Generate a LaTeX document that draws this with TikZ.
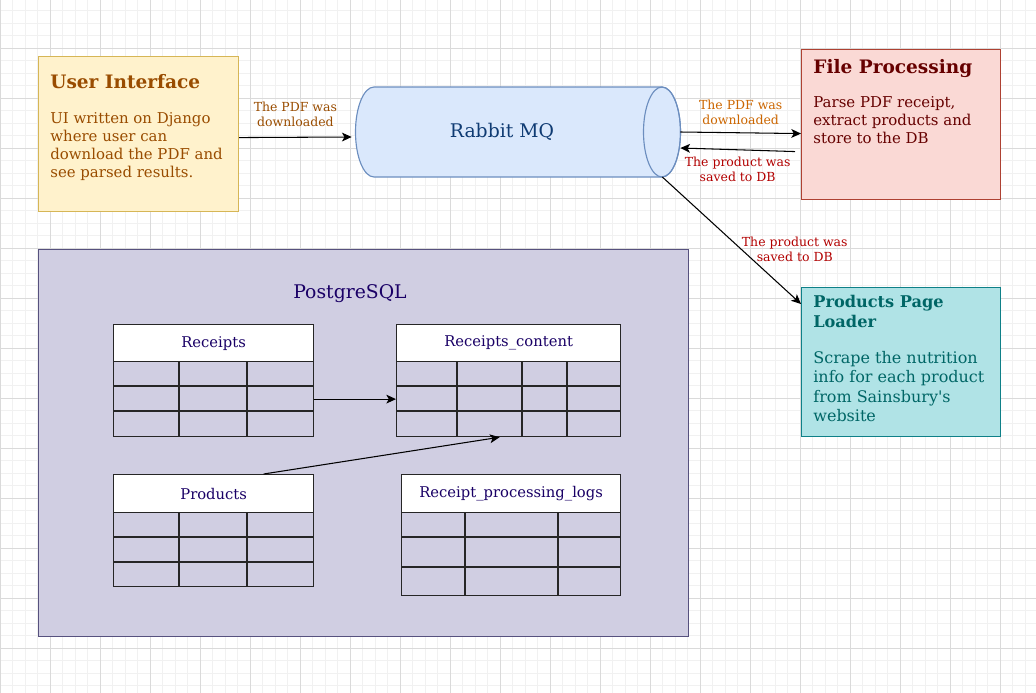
\documentclass[tikz,border=0pt]{standalone}
\usepackage{fontspec}
\setmainfont{DejaVu Serif}
\usetikzlibrary{arrows.meta}

\definecolor{uifill}{HTML}{FFF2CC}
\definecolor{uiline}{HTML}{D6B656}
\definecolor{uitext}{HTML}{994C00}
\definecolor{mqfill}{HTML}{DAE8FC}
\definecolor{mqline}{HTML}{6C8EBF}
\definecolor{mqtext}{HTML}{0F3B73}
\definecolor{fpfill}{HTML}{FAD9D5}
\definecolor{fpline}{HTML}{AE4132}
\definecolor{fptext}{HTML}{660000}
\definecolor{plfill}{HTML}{B0E3E6}
\definecolor{plline}{HTML}{0E8088}
\definecolor{pltext}{HTML}{006666}
\definecolor{pgfill}{HTML}{D0CEE2}
\definecolor{pgline}{HTML}{56517E}
\definecolor{pgtext}{HTML}{1A0066}
\definecolor{lblorange}{HTML}{CC6600}
\definecolor{lblred}{HTML}{B20000}
\definecolor{gridmajor}{HTML}{DADADA}
\definecolor{gridminor}{HTML}{F1F1F1}

\newcommand{\px}{0.02cm}

\tikzset{
  box/.style={draw, line width=0.65pt, anchor=north west, inner sep=0pt},
  title/.style={anchor=base west, inner sep=0pt, font=\fontsize{10.55pt}{11.5pt}\selectfont\bfseries, align=left},
  body/.style={anchor=base west, inner sep=0pt, font=\fontsize{8.5pt}{10.2pt}\selectfont, align=left},
  lbl/.style={inner sep=0pt, font=\fontsize{7.1pt}{8.4pt}\selectfont, align=center},
  thead/.style={draw=black!85, fill=white, line width=0.7pt, anchor=north west, inner sep=0pt,
    font=\fontsize{8.4pt}{9pt}\selectfont, text=pgtext},
  tbody/.style={draw=black!85, line width=0.7pt, anchor=north west, inner sep=0pt},
  tline/.style={draw=black!85, line width=0.7pt},
  conn/.style={-{Stealth[length=5.5pt,width=5pt,inset=1.4pt]}, line width=0.6pt},
}

\begin{document}
\begin{tikzpicture}[x=\px, y=-\px]
\useasboundingbox (0,0) rectangle (1036,693);
% background grid
\foreach \i in {0,...,83} \draw[gridminor, line width=0.4pt] (\i*12.5,0) -- (\i*12.5,693);
\foreach \j in {0,...,56} \draw[gridminor, line width=0.4pt] (0,\j*12.5-1.7) -- (1036,\j*12.5-1.7);
\foreach \i in {0,...,20} \draw[gridmajor, line width=0.4pt] (\i*50,0) -- (\i*50,693);
\foreach \j in {1,...,13} \draw[gridmajor, line width=0.4pt] (0,\j*50-1.7) -- (1036,\j*50-1.7);

% services
\node[box, fill=uifill, draw=uiline, minimum width=200*\px, minimum height=155*\px] (ui) at (38,56) {};
\node[title, text=uitext] (uititle) at (50,89) {User Interface};
\node[body, text=uitext] (uibody) at (50,177) {UI written on Django\\where user can\\download the PDF and\\see parsed results.};

% rabbit mq cylinder
\node[inner sep=0pt, minimum width=325*\px, minimum height=90*\px] (mq) at (517.5,132) {};
\draw[mqline, fill=mqfill, line width=0.65pt] (374,87) -- (662,87)
  arc[start angle=-90, end angle=90, x radius=18.5, y radius=45] -- (374,177)
  arc[start angle=90, end angle=270, x radius=18.5, y radius=45] -- cycle;
\draw[mqline, line width=0.65pt] (662,132) ellipse[x radius=18.5, y radius=45];
\node[inner sep=0pt, font=\fontsize{10.7pt}{12pt}\selectfont, text=mqtext] (mqtitle) at (502,131.5) {Rabbit MQ};

\node[box, fill=fpfill, draw=fpline, minimum width=199*\px, minimum height=150*\px] (fp) at (801,49) {};
\node[title, text=fptext] (fptitle) at (813,73) {File Processing};
\node[body, text=fptext] (fpbody) at (813,143) {Parse PDF receipt,\\extract products and\\store to the DB};

\node[box, fill=plfill, draw=plline, minimum width=199*\px, minimum height=149*\px] (pl) at (801,287) {};
\node[title, text=pltext, font=\fontsize{9.2pt}{11.3pt}\selectfont\bfseries] (pltitle) at (813,327) {Products Page\\Loader};
\node[body, text=pltext, font=\fontsize{9.1pt}{11pt}\selectfont] (plbody) at (813,421.5) {Scrape the nutrition\\info for each product\\from Sainsbury\textquotesingle s\\website};

% database
\node[box, fill=pgfill, draw=pgline, minimum width=650*\px, minimum height=387*\px] (pg) at (38,249) {};
\node[inner sep=0pt, font=\fontsize{10.7pt}{12pt}\selectfont, text=pgtext] (pgtitle) at (350,294) {PostgreSQL};

% Receipts
\node[thead, minimum width=200*\px, minimum height=37*\px] (rc) at (113,324) {Receipts};
\node[tbody, minimum width=200*\px, minimum height=75*\px] (rcbody) at (113,361) {};
\draw[tline] (179,361) -- (179,436) (247,361) -- (247,436) (113,386) -- (313,386) (113,411) -- (313,411);
% Receipts_content
\node[thead, minimum width=224*\px, minimum height=37*\px] (rcc) at (396,324) {Receipts\_content};
\node[tbody, minimum width=224*\px, minimum height=75*\px] (rccbody) at (396,361) {};
\draw[tline] (457,361) -- (457,436) (522,361) -- (522,436) (567,361) -- (567,436)
  (396,386) -- (620,386) (396,411) -- (620,411);
% Products
\node[thead, minimum width=200*\px, minimum height=38*\px] (pr) at (113,474) {Products};
\node[tbody, minimum width=200*\px, minimum height=74*\px] (prbody) at (113,512) {};
\draw[tline] (179,512) -- (179,586) (247,512) -- (247,586) (113,537) -- (313,537) (113,562) -- (313,562);
% Receipt_processing_logs
\node[thead, minimum width=219*\px, minimum height=38*\px] (rpl) at (401,474) {Receipt\_processing\_logs};
\node[tbody, minimum width=219*\px, minimum height=83*\px] (rplbody) at (401,512) {};
\draw[tline] (465,512) -- (465,595) (558,512) -- (558,595) (401,537) -- (620,537) (401,567) -- (620,567);

% connectors
\draw[conn] ([shift={(0,3.5)}]ui.east) -- node[lbl, text=uitext, above=6pt] {The PDF was\\downloaded} ([shift={(-3,5)}]mq.west);
\draw[conn] (mq.east) -- node[lbl, text=lblorange, above=4.5pt] {The PDF was\\downloaded} ([shift={(0,9)}]fp.west);
\draw[conn] ([shift={(-6,27)}]fp.west) -- node[lbl, text=lblred, below=4pt] {The product was\\saved to DB} ([shift={(0,16)}]mq.east);
\draw[conn] ([shift={(-18,45)}]mq.east) -- node[lbl, text=lblred, pos=0.57, right=0pt] {The product was\\saved to DB} ([shift={(0,17)}]pl.north west);
\draw[conn] (rcbody.east) -- (rccbody.west);
\draw[conn] ([shift={(50,0)}]pr.north) -- ([shift={(-9,0)}]rccbody.south);
\end{tikzpicture}
\end{document}
